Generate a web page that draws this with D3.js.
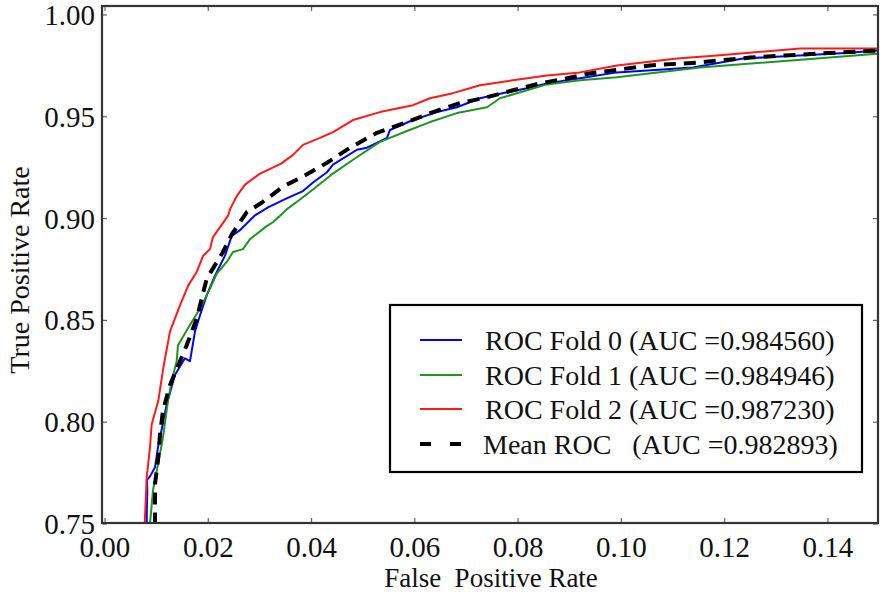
<!DOCTYPE html>
<html>
<head>
<meta charset="utf-8">
<script src="https://cdn.jsdelivr.net/npm/d3@7"></script>
<style>
  html, body { margin: 0; padding: 0; background: #fff; }
  svg { display: block; }
  text { font-family: "Liberation Serif", "DejaVu Serif", serif; fill: #111; }
</style>
</head>
<body>
<svg id="chart" width="883" height="593"></svg>
<script>
// ---- data ----
const xTicks = [0.00, 0.02, 0.04, 0.06, 0.08, 0.10, 0.12, 0.14];
const yTicks = [0.75, 0.80, 0.85, 0.90, 0.95, 1.00];

const seriesNames = ["ROC Fold 0", "ROC Fold 1", "ROC Fold 2", "Mean ROC"];
const aucValues = ["0.984560", "0.984946", "0.987230", "0.982893"];

const fold0 = [
  [0.00808, 0.740], [0.00808, 0.7535], [0.00819, 0.7666], [0.00810, 0.7715], [0.00871, 0.7734],
  [0.00968, 0.7778], [0.01026, 0.7876], [0.01195, 0.8087], [0.01356, 0.8233], [0.01549, 0.8314],
  [0.01646, 0.8300], [0.01743, 0.8446], [0.01840, 0.8525], [0.01969, 0.8623], [0.02130, 0.8720],
  [0.02324, 0.8818], [0.02454, 0.8915], [0.02614, 0.8943], [0.02905, 0.9016], [0.03156, 0.9055],
  [0.03519, 0.9099], [0.03834, 0.9135], [0.04028, 0.9177], [0.04293, 0.9226], [0.04415, 0.9265],
  [0.04880, 0.9338], [0.05074, 0.9348], [0.05461, 0.9396], [0.05519, 0.9435], [0.05964, 0.9484],
  [0.06429, 0.9523], [0.06816, 0.9547], [0.07262, 0.9591], [0.07785, 0.9620], [0.08172, 0.9640],
  [0.08559, 0.9664], [0.09198, 0.9689], [0.09915, 0.9718], [0.11387, 0.9742], [0.12355, 0.9786],
  [0.14427, 0.9815], [0.14950, 0.9825], [0.15200, 0.9827]
];

const fold1 = [
  [0.00871, 0.740], [0.00871, 0.7501], [0.00930, 0.7666], [0.01026, 0.7793], [0.01123, 0.7925],
  [0.01220, 0.8105], [0.01292, 0.8202], [0.01388, 0.8300], [0.01414, 0.8378], [0.01607, 0.8461],
  [0.01840, 0.8558], [0.02033, 0.8656], [0.02163, 0.8729], [0.02357, 0.8787], [0.02479, 0.8836],
  [0.02672, 0.8850], [0.02808, 0.8899], [0.03131, 0.8963], [0.03253, 0.8982], [0.03519, 0.9045],
  [0.03776, 0.9094], [0.04028, 0.9143], [0.04415, 0.9221], [0.04803, 0.9289], [0.05325, 0.9377],
  [0.05848, 0.9430], [0.06294, 0.9474], [0.06816, 0.9518], [0.07397, 0.9547], [0.07649, 0.9591],
  [0.08172, 0.9630], [0.08559, 0.9659], [0.09198, 0.9679], [0.09915, 0.9694], [0.11522, 0.9742],
  [0.13788, 0.9786], [0.14950, 0.9810], [0.15200, 0.9812]
];

const fold2 = [
  [0.00755, 0.740], [0.00775, 0.7535], [0.00808, 0.7730], [0.00871, 0.7876], [0.00904, 0.7989],
  [0.01032, 0.8105], [0.01129, 0.8266], [0.01259, 0.8446], [0.01452, 0.8574], [0.01613, 0.8672],
  [0.01776, 0.8738], [0.01898, 0.8816], [0.02033, 0.8850], [0.02091, 0.8909], [0.02382, 0.9013],
  [0.02421, 0.9045], [0.02550, 0.9110], [0.02711, 0.9167], [0.03002, 0.9221], [0.03410, 0.9270],
  [0.03641, 0.9313], [0.03834, 0.9362], [0.04163, 0.9396], [0.04415, 0.9425], [0.04803, 0.9484],
  [0.05325, 0.9523], [0.05964, 0.9557], [0.06294, 0.9591], [0.06739, 0.9616], [0.07262, 0.9655],
  [0.07901, 0.9679], [0.08559, 0.9703], [0.09198, 0.9718], [0.09915, 0.9752], [0.11077, 0.9786],
  [0.11851, 0.9801], [0.13459, 0.9835], [0.14950, 0.9835], [0.15200, 0.9836]
];

const meanRoc = [
  [0.00968, 0.740], [0.00968, 0.7535], [0.00968, 0.7695], [0.01026, 0.7812], [0.01065, 0.7939],
  [0.01123, 0.8056], [0.01259, 0.8183], [0.01582, 0.8378], [0.01776, 0.8509], [0.01969, 0.8704],
  [0.02285, 0.8836], [0.02459, 0.8924], [0.02744, 0.9031], [0.03041, 0.9079], [0.03447, 0.9157],
  [0.03834, 0.9206], [0.04299, 0.9274], [0.04744, 0.9348], [0.05267, 0.9421], [0.05848, 0.9474],
  [0.06352, 0.9523], [0.06875, 0.9567], [0.07397, 0.9596], [0.07901, 0.9630], [0.08424, 0.9664],
  [0.08947, 0.9689], [0.09392, 0.9713], [0.10554, 0.9752], [0.11522, 0.9767], [0.12490, 0.9791],
  [0.13788, 0.9810], [0.14950, 0.9825], [0.15200, 0.9827]
];

const seriesData = [fold0, fold1, fold2, meanRoc];
const seriesColors = ["#0000ff", "#1f941f", "#ff1a1a", "#000000"];

// ---- layout ----
const svg = d3.select("#chart");
const L = 102, R = 878, T = 6, B = 523;

const x = d3.scaleLinear().domain([-0.00058, 0.1497]).range([L, R]);
const y = d3.scaleLinear().domain([0.7505, 1.0044]).range([B, T]);

svg.append("defs").append("clipPath").attr("id", "plotclip")
  .append("rect").attr("x", L).attr("y", T).attr("width", R - L).attr("height", B - T);

// ticks (inside, all four sides)
const tickG = svg.append("g").attr("stroke", "#666").attr("stroke-width", 1.2);
xTicks.forEach(v => {
  tickG.append("line").attr("x1", x(v)).attr("x2", x(v)).attr("y1", B).attr("y2", B - 5);
  tickG.append("line").attr("x1", x(v)).attr("x2", x(v)).attr("y1", T).attr("y2", T + 5);
});
yTicks.forEach(v => {
  tickG.append("line").attr("x1", L).attr("x2", L + 5).attr("y1", y(v)).attr("y2", y(v));
  tickG.append("line").attr("x1", R).attr("x2", R - 5).attr("y1", y(v)).attr("y2", y(v));
});

// curves
const line = d3.line().x(d => x(d[0])).y(d => y(d[1]));
const curves = svg.append("g").attr("clip-path", "url(#plotclip)");
seriesData.forEach((data, i) => {
  const p = curves.append("path").datum(data)
    .attr("fill", "none")
    .attr("stroke", seriesColors[i])
    .attr("stroke-linejoin", "round")
    .attr("d", line);
  if (i === 3) p.attr("stroke-width", 4).attr("stroke-dasharray", "12,8");
  else p.attr("stroke-width", 2);
});

// frame
svg.append("rect").attr("x", L).attr("y", T).attr("width", R - L).attr("height", B - T)
  .attr("fill", "none").attr("stroke", "#333").attr("stroke-width", 2.2);

// tick labels
const fs = 29;
svg.append("g").selectAll("text").data(xTicks).join("text")
  .attr("x", d => x(d)).attr("y", 557)
  .attr("text-anchor", "middle").attr("font-size", fs)
  .text(d => d3.format(".2f")(d));
svg.append("g").selectAll("text").data(yTicks).join("text")
  .attr("x", 95).attr("y", d => y(d) + 10)
  .attr("text-anchor", "end").attr("font-size", fs)
  .text(d => d3.format(".2f")(d));

// axis labels
svg.append("text").attr("x", 491).attr("y", 587).attr("text-anchor", "middle")
  .attr("font-size", 27).style("white-space", "pre").text("False  Positive Rate");
svg.append("text").attr("transform", "translate(29,270) rotate(-90)")
  .attr("text-anchor", "middle").attr("font-size", 28).text("True Positive Rate");

// legend
const lg = svg.append("g");
lg.append("rect").attr("x", 390).attr("y", 305).attr("width", 472).attr("height", 167)
  .attr("fill", "#fff").attr("stroke", "#000").attr("stroke-width", 2.2);
const rowY = [340, 375, 409, 444];
const labels = [
  "ROC Fold 0 (AUC =" + aucValues[0] + ")",
  "ROC Fold 1 (AUC =" + aucValues[1] + ")",
  "ROC Fold 2 (AUC =" + aucValues[2] + ")",
  "Mean ROC   (AUC =" + aucValues[3] + ")"
];
seriesNames.forEach((n, i) => {
  const ln = lg.append("line").attr("x1", 420).attr("x2", 462)
    .attr("y1", rowY[i]).attr("y2", rowY[i]).attr("stroke", seriesColors[i]);
  if (i === 3) ln.attr("stroke-width", 4).attr("stroke-dasharray", "11,19");
  else ln.attr("stroke-width", 2);
  lg.append("text").attr("x", i === 3 ? 483 : 485).attr("y", rowY[i] + 10)
    .attr("font-size", 28).style("white-space", "pre").text(labels[i]);
});
</script>
</body>
</html>
